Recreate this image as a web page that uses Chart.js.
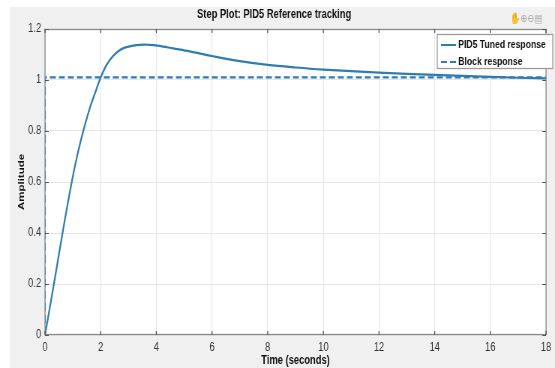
<!DOCTYPE html>
<html>
<head>
<meta charset="utf-8">
<script src="https://cdn.jsdelivr.net/npm/chart.js@4.4.1/dist/chart.umd.min.js"></script>
<style>
  html, body { margin: 0; padding: 0; background: #fff; overflow: hidden; }
  #wrap { width: 740px; height: 368px; transform: scaleX(0.75); transform-origin: 0 0; }
</style>
</head>
<body>
<!-- drawn 740 wide and squeezed to 555 so the text looks narrow like the original -->
<div id="wrap"><canvas id="stepChart" width="740" height="368"></canvas></div>
<script>
// step response values
var timeTuned = [0, 0.32, 0.63, 0.96, 1.15, 1.35, 1.61, 1.85, 2.0, 2.21, 2.45, 2.8, 3.28, 3.76, 4.1, 4.6, 5.2, 6.0, 7.0, 8.0, 9.0, 10, 12, 14, 16, 18];
var ampTuned  = [0, 0.2, 0.4, 0.6, 0.7, 0.79, 0.89, 0.965, 1.01, 1.059, 1.095, 1.124, 1.137, 1.138, 1.134, 1.124, 1.112, 1.094, 1.074, 1.059, 1.049, 1.041, 1.029, 1.02, 1.012, 1.006];
var timeBlock = [0, 0, 18];
var ampBlock  = [0, 1.01, 1.01];

var xTicks = [0, 2, 4, 6, 8, 10, 12, 14, 16, 18];
var yTicks = [0, 0.2, 0.4, 0.6, 0.8, 1, 1.2];

var seriesNames = ["PID5 Tuned response", "Block response"];
var lineColor = "rgb(46,124,176)";
var fontFam = "'Liberation Sans', Arial, sans-serif";

function toPoints(xs, ys) {
    return xs.map(function (x, i) { return {x: x, y: ys[i]}; });
}

// figure background, white axes area, box and inward ticks, legend
var matlabLook = {
    id: 'matlabLook',
    beforeDraw: function (chart) {
        var ctx = chart.ctx, a = chart.chartArea;
        ctx.save();
        ctx.fillStyle = '#ffffff';
        ctx.fillRect(0, 0, chart.width, chart.height);
        ctx.fillStyle = '#f0f0f0';
        ctx.fillRect(13, 7, chart.width - 13, chart.height - 7);
        ctx.fillStyle = '#ffffff';
        ctx.fillRect(a.left, a.top, a.right - a.left, a.bottom - a.top);
        ctx.restore();
    },
    afterDatasetsDraw: function (chart) {
        var ctx = chart.ctx, a = chart.chartArea;
        var xs = chart.scales.x, ys = chart.scales.y;
        ctx.save();
        ctx.strokeStyle = '#8a8a8a';
        ctx.lineWidth = 1.3;
        ctx.strokeRect(a.left, a.top + 0.5, a.right - a.left, a.bottom - a.top - 1);
        ctx.strokeStyle = '#555';
        ctx.lineWidth = 1.3;
        ctx.beginPath();
        xTicks.forEach(function (t) {
            var px = xs.getPixelForValue(t);
            ctx.moveTo(px, a.bottom); ctx.lineTo(px, a.bottom - 4);
            ctx.moveTo(px, a.top); ctx.lineTo(px, a.top + 4);
        });
        ctx.stroke();
        ctx.lineWidth = 1;
        ctx.beginPath();
        yTicks.forEach(function (t) {
            var py = Math.round(ys.getPixelForValue(t)) + 0.5;
            ctx.moveTo(a.left, py); ctx.lineTo(a.left + 5, py);
            ctx.moveTo(a.right, py); ctx.lineTo(a.right - 5, py);
        });
        ctx.stroke();

        // legend box in the top right corner
        var lx = 583, ly = 34, lw = 154, lh = 34;
        ctx.fillStyle = '#ffffff';
        ctx.fillRect(lx, ly, lw, lh);
        ctx.strokeStyle = '#9a9a9a';
        ctx.lineWidth = 1.3;
        ctx.strokeRect(lx, ly + 0.5, lw, lh);
        ctx.font = "bold 11.5px " + fontFam;
        ctx.textBaseline = 'middle';
        ctx.fillStyle = '#111';
        chart.data.datasets.forEach(function (ds, i) {
            var cy = ly + 11 + i * 17;
            ctx.strokeStyle = ds.borderColor;
            ctx.lineWidth = 2;
            ctx.setLineDash(ds.borderDash || []);
            ctx.beginPath();
            ctx.moveTo(lx + 5, cy); ctx.lineTo(lx + 25, cy);
            ctx.stroke();
            ctx.setLineDash([]);
            ctx.fillText(ds.label, lx + 28, cy);
        });

        // toolbar glyphs
        ctx.font = "11px 'DejaVu Sans', sans-serif";
        ctx.fillStyle = '#a8a8a8';
        ctx.fillText("\u270B\u2295\u2296\u25A4", 680, 19);
        ctx.restore();
    }
};

var ctx = document.getElementById("stepChart").getContext("2d");
var stepChart = new Chart(ctx, {
    type: 'scatter',
    data: {
        datasets: [
            {
                label: seriesNames[0],
                data: toPoints(timeTuned, ampTuned),
                showLine: true,
                borderColor: lineColor,
                borderWidth: 2.2,
                pointRadius: 0,
                tension: 0.35
            },
            {
                label: seriesNames[1],
                data: toPoints(timeBlock, ampBlock),
                showLine: true,
                borderColor: lineColor,
                borderWidth: 2.2,
                borderDash: [8, 4],
                pointRadius: 0,
                tension: 0
            }
        ]
    },
    options: {
        responsive: false,
        animation: false,
        events: [],
        layout: { padding: { left: 0, right: 9, top: 0, bottom: 0 } },
        plugins: {
            legend: { display: false },
            tooltip: { enabled: false },
            title: {
                display: true,
                text: "Step Plot: PID5 Reference tracking",
                color: '#111',
                font: { family: fontFam, size: 12.5, weight: 'bold', lineHeight: 1.2 },
                padding: { top: 7.3, bottom: 6.7 }
            }
        },
        scales: {
            x: {
                type: 'linear',
                min: 0, max: 18,
                afterFit: function (s) { s.height = 33; },
                afterBuildTicks: function (s) { s.ticks = xTicks.map(function (v) { return {value: v}; }); },
                grid: { color: '#e6e6e6', drawTicks: false },
                border: { display: false },
                ticks: {
                    color: '#333',
                    padding: 5,
                    maxRotation: 0,
                    font: { family: fontFam, size: 12.5 }
                },
                title: {
                    display: true,
                    text: "Time (seconds)",
                    color: '#111',
                    font: { family: fontFam, size: 12.5, weight: 'bold' },
                    padding: { top: 0, bottom: 0 }
                }
            },
            y: {
                type: 'linear',
                min: 0, max: 1.2,
                afterFit: function (s) { s.width = 60; },
                afterBuildTicks: function (s) { s.ticks = yTicks.map(function (v) { return {value: v}; }); },
                grid: { color: '#e6e6e6', drawTicks: false },
                border: { display: false },
                ticks: {
                    color: '#333',
                    padding: 5,
                    font: { family: fontFam, size: 12.5 },
                    callback: function (v) { return String(Math.round(v * 10) / 10); }
                },
                title: {
                    display: true,
                    text: "Amplitude",
                    color: '#111',
                    font: { family: fontFam, size: 11.5, weight: 'bold' },
                    padding: { top: 22, bottom: 0 }
                }
            }
        }
    },
    plugins: [matlabLook]
});
</script>
</body>
</html>
